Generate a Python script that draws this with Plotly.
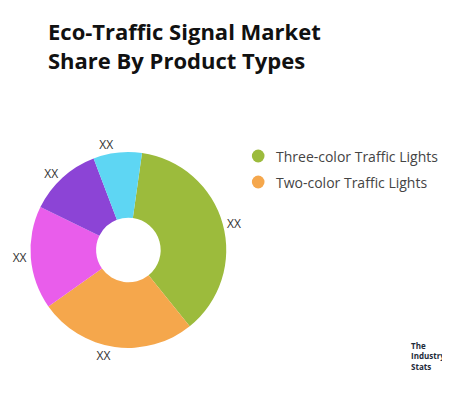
import plotly.graph_objects as go

labels = ["Three-color Traffic Lights", "Two-color Traffic Lights", "Segment C", "Segment D", "Segment E"]
values = [37, 26, 17, 12, 8]
slice_text = ["XX", "XX", "XX", "XX", "XX"]
colors = ["#9CBB3C", "#F5A74C", "#E95DEB", "#8C44D6", "#5ED6F3"]
legend_labels = ["Three-color Traffic Lights", "Two-color Traffic Lights"]

fig = go.Figure()
fig.add_trace(go.Pie(
    labels=labels, values=values, text=slice_text,
    textinfo="text", textposition="outside",
    textfont=dict(size=12, color="#333", family="Open Sans"),
    hole=0.33, sort=False, direction="clockwise", rotation=8,
    marker=dict(colors=colors),
    showlegend=False,
    domain=dict(x=[0.05, 0.485], y=[0.15, 0.64]),
))

# manual legend (only the first two entries are visible in the reference)
for i, name in enumerate(legend_labels):
    y = 0.63 - i * 0.065
    fig.add_shape(type="circle", xref="paper", yref="paper",
                  x0=0.542, x1=0.570, y0=y - 0.016, y1=y + 0.016,
                  fillcolor=colors[i], line=dict(width=0))
    fig.add_annotation(x=0.59, y=y, xref="paper", yref="paper", text=name,
                       showarrow=False, xanchor="left",
                       font=dict(size=14, color="#444", family="Open Sans"))

fig.add_annotation(x=0.085, y=0.985, xref="paper", yref="paper",
                   text="<b>Eco-Traffic Signal Market<br>Share By Product Types</b>",
                   showarrow=False, xanchor="left", yanchor="top", align="left",
                   font=dict(size=22, color="#111", family="Open Sans"))

fig.add_annotation(x=0.89, y=0.085, xref="paper", yref="paper",
                   text="<b>The<br>Industry<br>Stats</b>", showarrow=False,
                   xanchor="left", align="left",
                   font=dict(size=8, color="#1d2b3a", family="Open Sans"))

fig.update_layout(width=450, height=400, margin=dict(l=0, r=0, t=0, b=0),
                  paper_bgcolor="white", plot_bgcolor="white")
fig.write_html("out.html")
